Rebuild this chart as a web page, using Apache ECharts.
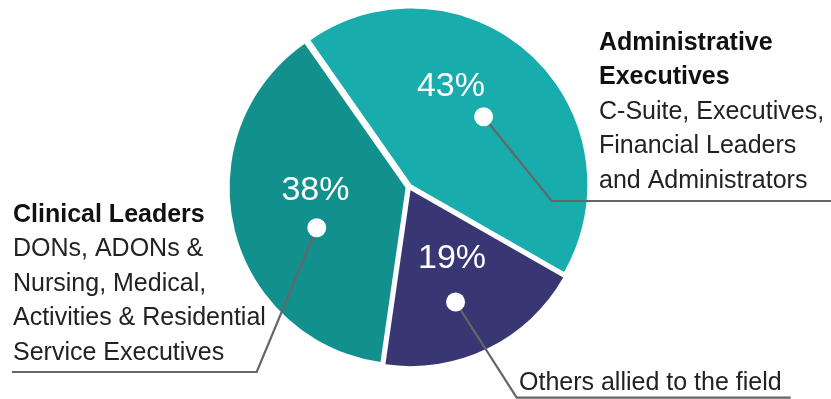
<!DOCTYPE html>
<html>
<head>
<meta charset="utf-8">
<script src="https://cdn.jsdelivr.net/npm/echarts@6/dist/echarts.min.js"></script>
<style>html,body{margin:0;padding:0;background:#fff;}#c{width:831px;height:399px;}</style>
</head>
<body>
<div id="c"></div>
<script>
// ---- data ----
const names = ['Administrative Executives', 'Others allied to the field', 'Clinical Leaders'];
const values = [43, 19, 38];
const percentLabels = ['43%', '19%', '38%'];
const titleLines = [['Administrative', 'Executives'], [], ['Clinical Leaders']];
const bodyLines = [
  ['C-Suite, Executives,', 'Financial Leaders', 'and Administrators'],
  ['Others allied to the field'],
  ['DONs, ADONs &', 'Nursing, Medical,', 'Activities & Residential', 'Service Executives']
];

// ---- style / layout ----
const colors = ['#19ACAC', '#393674', '#12908E'];
const CX = 409, CY = 187, R = 176, START = 125;
const FONT = '"Liberation Sans", Arial, Helvetica, sans-serif';
// nudges relative to slice mid-angle (in percent of circle) and radius fractions
const pctNudge = [-5.5, -1.4, 3.1], pctR = [0.62, 0.474, 0.532];
const dotNudge = [1.2, 1.1, -2.9], dotR = [0.582, 0.705, 0.573];
const callout = [
  {x: 599, y: 26, lineY: 201, elbowX: 551.7, endX: 831},
  {x: 519, y: 366, lineY: 397.7, elbowX: 516.7, endX: 790.7},
  {x: 13, y: 198, lineY: 372, elbowX: 256.7, endX: 12}
];

const total = values.reduce((a, b) => a + b, 0);
let acc = 0;
const mids = values.map(v => { const m = acc + v / 2 / total * 100; acc += v / total * 100; return m; });
function toPixel(pct, rf) {
  const a = (START - pct * 3.6) * Math.PI / 180;
  return [CX + R * rf * Math.cos(a), CY - R * rf * Math.sin(a)];
}

const chart = echarts.init(document.getElementById('c'), null, {renderer: 'canvas'});
const option = {
  animation: false,
  backgroundColor: '#fff',
  polar: {center: [CX, CY], radius: R},
  angleAxis: {type: 'value', min: 0, max: 100, startAngle: START, clockwise: true, show: false},
  radiusAxis: {type: 'value', min: 0, max: 1, show: false},
  series: [
    {
      type: 'pie', center: [CX, CY], radius: [0, R], startAngle: START, clockwise: true,
      avoidLabelOverlap: false, selectedMode: 'multiple', selectedOffset: 3.5,
      emphasis: {disabled: true}, silent: true, z: 1,
      data: values.map((v, i) => ({name: names[i], value: v, selected: true, itemStyle: {color: colors[i]}})),
      label: {show: false},
      labelLine: {show: false}
    },
    {
      type: 'pie', center: [CX, CY], radius: [0, R], startAngle: START, clockwise: true,
      avoidLabelOverlap: false, emphasis: {disabled: true}, silent: true, z: 3,
      itemStyle: {color: 'rgba(0,0,0,0)'},
      data: values.map((v, i) => ({name: names[i], value: v})),
      label: {
        show: true, position: 'outside',
        formatter: p => {
          const i = p.dataIndex;
          return titleLines[i].map(t => '{t|' + t + '}').concat(bodyLines[i].map(t => '{b|' + t + '}')).join('\n');
        },
        rich: {
          t: {fontSize: 25, fontWeight: 'bold', color: '#111', fontFamily: FONT, lineHeight: 34.4},
          b: {fontSize: 25, fontWeight: 'normal', color: '#222', fontFamily: FONT, lineHeight: 34.4}
        }
      },
      labelLine: {show: true, lineStyle: {color: '#666', width: 2.2}},
      labelLayout: p => {
        const i = p.dataIndex, c = callout[i];
        const d = toPixel(mids[i] + dotNudge[i], dotR[i]);
        return {
          x: c.x, y: c.y, align: 'left', verticalAlign: 'top',
          labelLinePoints: [d, [c.elbowX, c.lineY], [c.endX, c.lineY]]
        };
      }
    },
    {
      type: 'scatter', coordinateSystem: 'polar', silent: true, z: 5,
      symbol: 'circle', symbolSize: 19, itemStyle: {color: '#fff', opacity: 1},
      data: values.map((v, i) => [dotR[i], mids[i] + dotNudge[i]])
    },
    {
      type: 'scatter', coordinateSystem: 'polar', silent: true, z: 5,
      symbol: 'circle', symbolSize: 1, itemStyle: {color: 'rgba(0,0,0,0)', opacity: 1},
      data: values.map((v, i) => [pctR[i], mids[i] + pctNudge[i]]),
      label: {
        show: true, position: 'inside', formatter: p => percentLabels[p.dataIndex],
        color: '#ffffff', opacity: 1, fontSize: 34, fontFamily: FONT, fontWeight: 'normal'
      }
    }
  ]
};
chart.setOption(option);
</script>
</body>
</html>
